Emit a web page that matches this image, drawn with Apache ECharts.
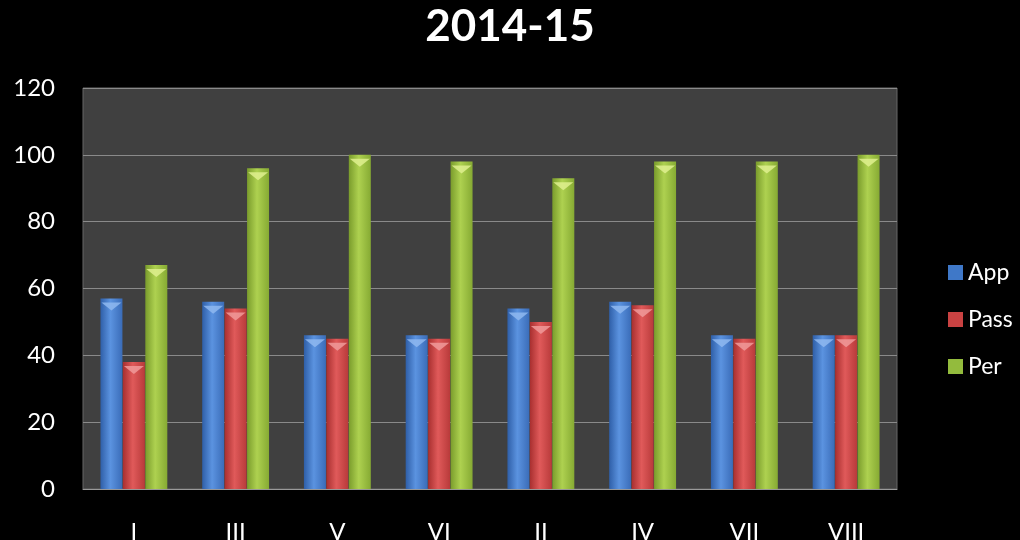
<!DOCTYPE html>
<html><head><meta charset="utf-8">
<script src="https://cdn.jsdelivr.net/npm/echarts@6/dist/echarts.min.js"></script>
<style>html,body{margin:0;padding:0;background:#000}#c{width:1020px;height:540px}</style>
</head><body><div id="c"></div>
<script>
const categories = ['I','III','V','VI','II','IV','VII','VIII'];
const app  = [57, 56, 46, 46, 54, 56, 46, 46];
const pass = [38, 54, 45, 45, 50, 55, 45, 46];
const per  = [67, 96, 100, 98, 93, 98, 98, 100];
const seriesNames = ['App','Pass','Per'];
const yTicks = [0,20,40,60,80,100,120];

function grad(dark, mid, light){
  return new echarts.graphic.LinearGradient(0,0,1,0,[
    {offset:0,color:dark},{offset:0.45,color:light},{offset:1,color:mid}
  ]);
}
const fills = [
  grad('#2f5fa8','#3a6cb8','#5b93e0'),
  grad('#a82f2f','#b83a3a','#e05a5a'),
  grad('#7a9c2c','#86aa33','#aed150')
];
const legendColors = ['#3f78c8','#c94242','#93bb3d'];
const capColors = ['#8fb8f0','#f09a9a','#dff08f'];
const data = [app, pass, per];
const chart = echarts.init(document.getElementById('c'));
chart.setOption({
  backgroundColor:'#000',
  animation:false,
  title:{text:'2014-15',left:'center',top:0,textStyle:{color:'#fff',fontSize:44,fontWeight:'bold',fontFamily:'Lato'}},
  legend:{orient:'vertical',left:943,top:256,itemWidth:15,itemHeight:15,itemGap:24,icon:'rect',
    textStyle:{color:'#fff',fontSize:23,fontFamily:'Lato'},
    data:seriesNames.map((n,i)=>({name:n,itemStyle:{color:legendColors[i]}}))},
  grid:{left:83,right:123,top:88,bottom:51,show:true,backgroundColor:'#404040',borderColor:'#666',borderWidth:1,
    containLabel:false,outerBoundsMode:'none'},
  xAxis:{type:'category',data:categories,
    axisLine:{lineStyle:{color:'#9a9a9a'}},axisTick:{show:false},
    axisLabel:{color:'#fff',fontSize:24,fontFamily:'Lato',margin:31}},
  yAxis:{type:'value',min:0,max:120,interval:20,
    axisLine:{show:false},axisTick:{show:false},
    splitLine:{lineStyle:{color:'#8a8a8a',width:1}},
    axisLabel:{color:'#fff',fontSize:24,fontFamily:'Lato',margin:28,
      formatter:v=>yTicks.includes(v)?String(v):''}},
  series: seriesNames.map((n,i)=>({
    name:n,type:'bar',data:data[i],barWidth:22,barGap:'2%',
    itemStyle:{color:fills[i]},
    emphasis:{disabled:true}
  })).concat(seriesNames.map((n,i)=>({
    name:n,type:'pictorialBar',data:data[i],symbol:'triangle',symbolRotate:180,
    symbolSize:[20,8],symbolPosition:'end',symbolOffset:[0,'50%'],
    barWidth:22,barGap:'2%',z:5,
    itemStyle:{color:capColors[i],opacity:0.85},
    legendHoverLink:false,tooltip:{show:false}
  })))
});
</script></body></html>
